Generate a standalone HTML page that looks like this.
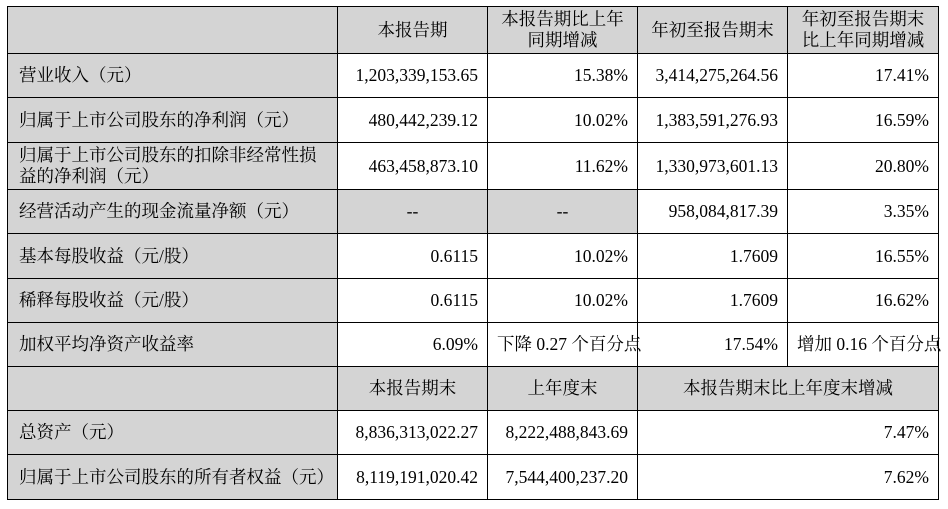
<!DOCTYPE html>
<html><head><meta charset="utf-8"><style>
body{margin:0;background:#fff;width:948px;height:509px;overflow:hidden}
table{position:absolute;left:7px;top:6px;width:931px;border-collapse:collapse;table-layout:fixed;font-family:"Liberation Serif","Noto Serif CJK SC",serif;color:#000}
td{border:1.5px solid #000;padding:0;font-size:17.5px;line-height:21px;overflow:visible;white-space:nowrap}
.g{background:#d4d4d4}
.l{text-align:left;padding-left:11px}
.r{text-align:right;padding-right:9px}
.c{text-align:center}
</style></head><body>
<table>
<colgroup><col style="width:330px"><col style="width:150px"><col style="width:150px"><col style="width:150px"><col style="width:151px"></colgroup>
<tr style="height:47px"><td class="g"></td><td class="g c">本报告期</td><td class="g c">本报告期比上年<br>同期增减</td><td class="g c">年初至报告期末</td><td class="g c">年初至报告期末<br>比上年同期增减</td></tr>
<tr style="height:44px"><td class="g l">营业收入（元）</td><td class="r">1,203,339,153.65</td><td class="r">15.38%</td><td class="r">3,414,275,264.56</td><td class="r">17.41%</td></tr>
<tr style="height:45px"><td class="g l">归属于上市公司股东的净利润（元）</td><td class="r">480,442,239.12</td><td class="r">10.02%</td><td class="r">1,383,591,276.93</td><td class="r">16.59%</td></tr>
<tr style="height:47px"><td class="g l">归属于上市公司股东的扣除非经常性损<br>益的净利润（元）</td><td class="r">463,458,873.10</td><td class="r">11.62%</td><td class="r">1,330,973,601.13</td><td class="r">20.80%</td></tr>
<tr style="height:44px"><td class="g l">经营活动产生的现金流量净额（元）</td><td class="g c">--</td><td class="g c">--</td><td class="r">958,084,817.39</td><td class="r">3.35%</td></tr>
<tr style="height:45px"><td class="g l">基本每股收益（元/股）</td><td class="r">0.6115</td><td class="r">10.02%</td><td class="r">1.7609</td><td class="r">16.55%</td></tr>
<tr style="height:44px"><td class="g l">稀释每股收益（元/股）</td><td class="r">0.6115</td><td class="r">10.02%</td><td class="r">1.7609</td><td class="r">16.62%</td></tr>
<tr style="height:44px"><td class="g l">加权平均净资产收益率</td><td class="r">6.09%</td><td style="padding-left:9px">下降 0.27 个百分点</td><td class="r">17.54%</td><td style="padding-left:9px">增加 0.16 个百分点</td></tr>
<tr style="height:44px"><td class="g"></td><td class="g c">本报告期末</td><td class="g c">上年度末</td><td class="g c" colspan="2">本报告期末比上年度末增减</td></tr>
<tr style="height:44px"><td class="g l">总资产（元）</td><td class="r">8,836,313,022.27</td><td class="r">8,222,488,843.69</td><td class="r" colspan="2">7.47%</td></tr>
<tr style="height:45px"><td class="g l">归属于上市公司股东的所有者权益（元）</td><td class="r">8,119,191,020.42</td><td class="r">7,544,400,237.20</td><td class="r" colspan="2">7.62%</td></tr>
</table>
</body></html>
